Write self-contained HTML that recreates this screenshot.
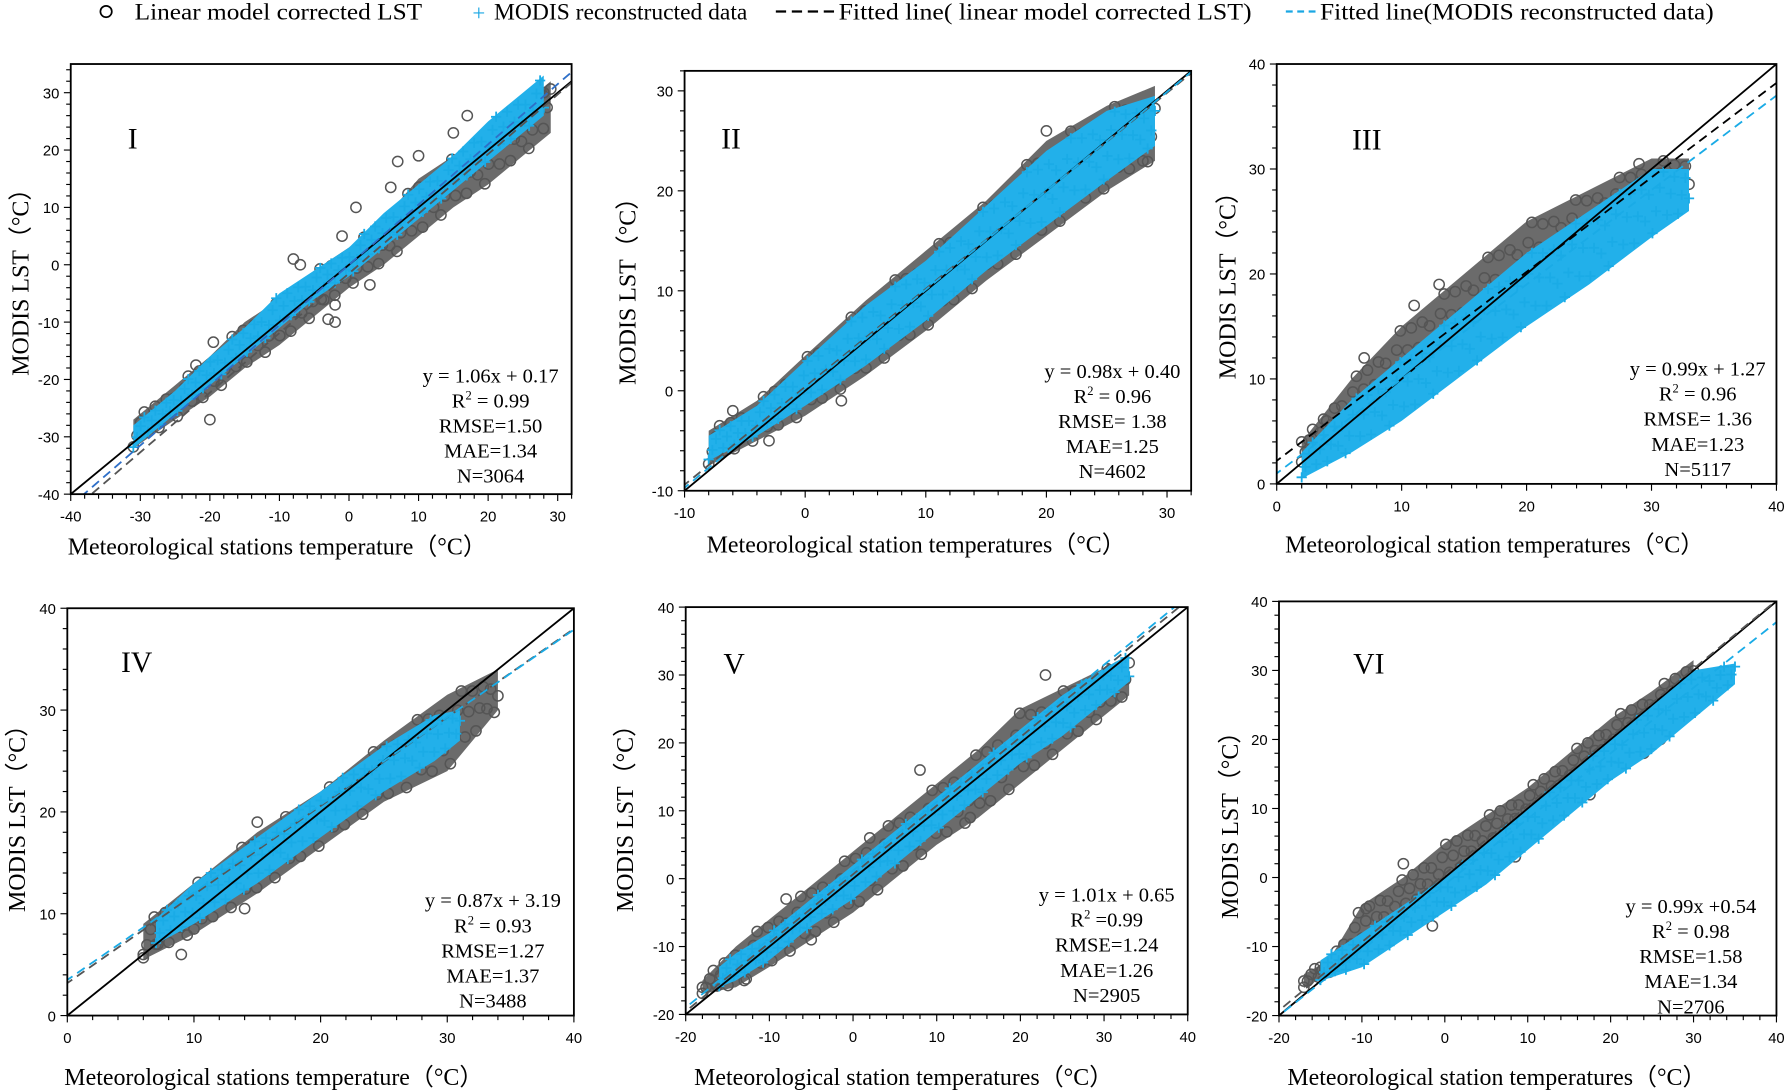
<!DOCTYPE html>
<html><head><meta charset="utf-8"><style>
html,body{margin:0;padding:0;background:#fff;}
svg{display:block;}
text{font-family:"Liberation Serif",serif;fill:#000;}
.tick{font-family:"Liberation Sans",sans-serif;font-size:13px;}
</style></head><body>
<svg id="chart" width="1789" height="1091" viewBox="0 0 1568 956" xmlns="http://www.w3.org/2000/svg">
<g>
 <circle cx="93" cy="10" r="5" fill="none" stroke="#000" stroke-width="1.5"/>
 <text x="118" y="17" font-size="20" textLength="252" lengthAdjust="spacingAndGlyphs">Linear model corrected LST</text>
 <text x="414" y="18" font-size="20" fill="#1aa7e3" style="fill:#1aa7e3">+</text>
 <text x="433" y="17" font-size="20" textLength="222" lengthAdjust="spacingAndGlyphs">MODIS reconstructed data</text>
 <line x1="680" y1="10" x2="733" y2="10" stroke="#000" stroke-width="2" stroke-dasharray="9,5"/>
 <text x="735" y="17" font-size="20" textLength="362" lengthAdjust="spacingAndGlyphs">Fitted line( linear model corrected LST)</text>
 <line x1="1127" y1="10" x2="1156" y2="10" stroke="#1aa7e3" stroke-width="2" stroke-dasharray="6,4"/>
 <text x="1157" y="17" font-size="20" textLength="345" lengthAdjust="spacingAndGlyphs">Fitted line(MODIS reconstructed data)</text>
</g>
</svg>
<script>
// ---- Panel I data ----
const p1GrayX=[-31,-25,-20,-15,-10,-5,0,5,10,15,20,25,29];
const p1GrayLo=[-32,-27,-23,-18,-14,-9,-4,0,5,10,14,19,23];
const p1GrayHi=[-27,-21,-16,-10,-6,-1,3,8,15,19,24,28,32];
const p1CyanX=[-31,-25,-20,-15,-10,-5,0,5,10,15,20,25,28];
const p1CyanLo=[-32,-26,-21,-16,-11,-6,-2,3,8,13,18,23,26];
const p1CyanHi=[-28,-22,-16,-11,-5,-1,3,9,14,19,25,30,33];
const p1OutX=[-20,-22,-19.5,-7,-8,-2,-3,3,1,-1,7,6,17,15,10,19,28,-2,-4];
const p1OutY=[-27,-17.5,-13.5,0,1,-10,-9.5,-3.5,10,5,18,13.5,26,23,19,20,30,-7,-6];
// ---- Panel II data ----
const p2GrayX=[-8,-4,0,5,10,15,20,25,29];
const p2GrayLo=[-7.5,-5,-2.5,1.5,6,11,15.5,20,23];
const p2GrayHi=[-4,-1,3.5,9,14,19,25,28.5,30.5];
const p2CyanX=[-8,-4,0,5,10,15,20,25,29];
const p2CyanLo=[-7,-4.5,-1.5,2.5,7,12,16.5,21,24.5];
const p2CyanHi=[-4.5,-1.5,3,8.5,13,18.5,24,28,29.5];
const p2OutX=[-3,3,5,13,20,28,-6];
const p2OutY=[-5,-1,8,11,26,23,-2];
// ---- Panel III data ----
const p3GrayX=[2,6,10,15,20,25,30,33];
const p3GrayLo=[2,5.5,9,13.5,18,22,26,27.5];
const p3GrayHi=[4,10,15,20,25,28,31,31];
const p3CyanX=[2,6,10,15,20,25,30,33];
const p3CyanLo=[0.5,3,6,10.5,15,19,23.5,26];
const p3CyanHi=[3,8,12,17,22,26,30,30];
const p3OutX=[2,4,7,11,13,29];
const p3OutY=[4,6,12,17,19,30.5];
// ---- Panel IV data ----
const p4GrayX=[6,10,15,20,25,30,34];
const p4GrayLo=[5.5,8,12,16.5,21,24,30];
const p4GrayHi=[9,13,18,22,27,31.5,34];
const p4CyanX=[7,10,15,20,25,29,31];
const p4CyanLo=[7,9,13,17.5,22,25,27];
const p4CyanHi=[9.5,13,17.5,22,26.5,29.5,30];
const p4OutX=[6,7,9,10,14,15];
const p4OutY=[6,7,6,8.5,10.5,19];
// ---- Panel V data ----
const p5GrayX=[-18,-14,-10,-5,0,5,10,15,20,25,30,33];
const p5GrayLo=[-17,-16,-13,-9,-5,0,5,9,14,19,24,27];
const p5GrayHi=[-15,-10,-6,-1,4,9,14,19,25,28,31,33];
const p5CyanX=[-16,-14,-10,-5,0,5,10,15,20,25,30,33];
const p5CyanLo=[-16,-15,-12,-7,-3,2,7,12,17,21,26,29];
const p5CyanHi=[-13,-11,-8,-3,2,7,12,17,22,27,31,33];
const p5OutX=[-18,-13,-5,2,8,14,-8,23];
const p5OutY=[-16,-15,-9,6,16,9,-3,30];
// ---- Panel VI data ----
const p6GrayX=[-17,-14,-10,-5,0,5,10,15,20,25,30];
const p6GrayLo=[-16,-14,-10,-5,-1,4,8.5,13,18,22,27];
const p6GrayHi=[-14,-12,-4,0,5,9,13,18,23,27,31.5];
const p6CyanX=[-15,-10,-5,0,5,10,15,20,25,30,35];
const p6CyanLo=[-15,-13,-9,-5,-1,4,9,14,18,23,28];
const p6CyanHi=[-12,-8,-4,0,5,10,15,20,25,30,31];
const p6OutX=[-17,-15,-9.5,-5,-1.5,8.5,17.5,24,26];
const p6OutY=[-15,-13,-4.5,2,-7,3,12,18,20];
// ---- fit lines [slope, intercept] ----
const fitGray=[[1.04,-1.5],[0.98,0.4],[0.9,2.2],[0.87,3.19],[1.01,0.65],[0.99,0.54]];
const fitCyan=[[1.05,0.0],[0.99,0.2],[0.9,1.0],[0.86,3.5],[1.01,1.2],[0.95,-1.0]];
const statsText=[
 ["y = 1.06x + 0.17","0.99","RMSE=1.50","MAE=1.34","N=3064"],
 ["y = 0.98x + 0.40","0.96","RMSE= 1.38","MAE=1.25","N=4602"],
 ["y = 0.99x + 1.27","0.96","RMSE= 1.36","MAE=1.23","N=5117"],
 ["y = 0.87x + 3.19","0.93","RMSE=1.27","MAE=1.37","N=3488"],
 ["y = 1.01x + 0.65","=0.99","RMSE=1.24","MAE=1.26","N=2905"],
 ["y = 0.99x +0.54","0.98","RMSE=1.58","MAE=1.34","N=2706"]];
const romanLabels=["I","II","III","IV","V","VI"];

const panels=[
 {box:[62,56,501,433],xd:[-40,32],yd:[-40,35],xt:[-40,-30,-20,-10,0,10,20,30],yt:[-40,-30,-20,-10,0,10,20,30],
  data:[p1GrayX,p1GrayLo,p1GrayHi,p1CyanX,p1CyanLo,p1CyanHi,p1OutX,p1OutY],lab:[112,130],st:[430,335],
  xtitle:"Meteorological stations temperature（°C）",xtp:[243,486],ytp:[18,242]},
 {box:[600,62,1044,430],xd:[-10,32],yd:[-10,32],xt:[-10,0,10,20,30],yt:[-10,0,10,20,30],
  data:[p2GrayX,p2GrayLo,p2GrayHi,p2CyanX,p2CyanLo,p2CyanHi,p2OutX,p2OutY],lab:[632,130],st:[975,331],
  xtitle:"Meteorological station temperatures（°C）",xtp:[803,484],ytp:[550,250]},
 {box:[1119,56,1557,424],xd:[0,40],yd:[0,40],xt:[0,10,20,30,40],yt:[0,10,20,30,40],
  data:[p3GrayX,p3GrayLo,p3GrayHi,p3CyanX,p3CyanLo,p3CyanHi,p3OutX,p3OutY],lab:[1185,131],st:[1488,329],
  xtitle:"Meteorological station temperatures（°C）",xtp:[1310,484],ytp:[1076,245]},
 {box:[59,533,503,890],xd:[0,40],yd:[0,40],xt:[0,10,20,30,40],yt:[0,10,20,30,40],
  data:[p4GrayX,p4GrayLo,p4GrayHi,p4CyanX,p4CyanLo,p4CyanHi,p4OutX,p4OutY],lab:[106,589],st:[432,795],
  xtitle:"Meteorological stations temperature（°C）",xtp:[240,951],ytp:[15,712]},
 {box:[601,532,1041,889],xd:[-20,40],yd:[-20,40],xt:[-20,-10,0,10,20,30,40],yt:[-20,-10,0,10,20,30,40],
  data:[p5GrayX,p5GrayLo,p5GrayHi,p5CyanX,p5CyanLo,p5CyanHi,p5OutX,p5OutY],lab:[634,590],st:[970,790],
  xtitle:"Meteorological station temperatures（°C）",xtp:[792,951],ytp:[548,712]},
 {box:[1121,527,1557,890],xd:[-20,40],yd:[-20,40],xt:[-20,-10,0,10,20,30,40],yt:[-20,-10,0,10,20,30,40],
  data:[p6GrayX,p6GrayLo,p6GrayHi,p6CyanX,p6CyanLo,p6CyanHi,p6OutX,p6OutY],lab:[1186,590],st:[1482,800],
  xtitle:"Meteorological station temperatures（°C）",xtp:[1312,951],ytp:[1078,718]}
];
const NS="http://www.w3.org/2000/svg";
const svg=document.getElementById('chart');
function mk(tag,attrs,parent){const e=document.createElementNS(NS,tag);for(const k in attrs)e.setAttribute(k,attrs[k]);(parent||svg).appendChild(e);return e;}
function interp(xs,ys,x){if(x<=xs[0])return ys[0];for(let i=1;i<xs.length;i++){if(x<=xs[i]){const t=(x-xs[i-1])/(xs[i]-xs[i-1]);return ys[i-1]+t*(ys[i]-ys[i-1]);}}return ys[ys.length-1];}
const fracs=[0.05,0.35,0.7,0.95,0.2,0.55,0.85,0.1,0.45,0.8,0.3,0.65];

panels.forEach((p,pi)=>{
 const [x0,y0,x1,y1]=p.box;
 const sx=v=>x0+(v-p.xd[0])/(p.xd[1]-p.xd[0])*(x1-x0);
 const sy=v=>y1-(v-p.yd[0])/(p.yd[1]-p.yd[0])*(y1-y0);
 const g=mk('g',{});
 
 
 const cid='clip'+pi;
 const cp=mk('clipPath',{id:cid},g);mk('rect',{x:x0,y:y0,width:x1-x0,height:y1-y0},cp);
 const plot=mk('g',{'clip-path':'url(#'+cid+')'},g);
 const [gx,glo,ghi,cx,clo,chi,ox,oy]=p.data;
 function band(xs,lo,hi,fill,name){
  let pts=xs.map((x,i)=>sx(x)+','+sy(lo[i]));
  for(let i=xs.length-1;i>=0;i--)pts.push(sx(xs[i])+','+sy(hi[i]));
  const poly=mk('polygon',{points:pts.join(' '),fill:fill},plot);
  
  
 }
 function markers(xs,lo,hi,type,name){
  const grp=mk('g',{},plot);
  
  
  const a=xs[0],b=xs[xs.length-1],n=Math.round((sx(b)-sx(a))/3.2);
  for(let k=0;k<=n;k++){
   const x=a+(b-a)*k/n;const l=interp(xs,lo,x),h=interp(xs,hi,x);
   const f=fracs[k%fracs.length];const y=l+(h-l)*f;
   const X=sx(x),Y=sy(y);
   if(type==='c')mk('circle',{cx:X,cy:Y,r:4.5,fill:'none',stroke:'#555',"stroke-width":1.3},grp);
   else mk('path',{d:`M${X-4.5},${Y}H${X+4.5}M${X},${Y-4.5}V${Y+4.5}`,stroke:'#1aabe6',"stroke-width":1.6},grp);
  }
 }
 band(gx,glo,ghi,'#6b6b6b','gray');
 markers(gx,glo,ghi,'c','gray');
 const og=mk('g',{},plot);
 
 
 ox.forEach((x,i)=>{const c=mk('circle',{cx:sx(x),cy:sy(oy[i]),r:4.5,fill:'none',stroke:'#555',"stroke-width":1.3},og);});
 band(cx,clo,chi,'#22b0ea','cyan');
 markers(cx,clo,chi,'p','cyan');
 const lo=Math.min(p.xd[0],p.yd[0])-5,hiV=Math.max(p.xd[1],p.yd[1])+5;
 const l1=mk('line',{x1:sx(lo),y1:sy(lo),x2:sx(hiV),y2:sy(hiV),stroke:'#000',"stroke-width":1.6},plot);
 
 
 const [ga,gb]=fitGray[pi];
 const l2=mk('line',{x1:sx(lo),y1:sy(ga*lo+gb),x2:sx(hiV),y2:sy(ga*hiV+gb),stroke:pi===2?'#000':'#555',"stroke-width":1.6,"stroke-dasharray":"8,5"},plot);
 
 
 const [ca,cb]=fitCyan[pi];
 const l3=mk('line',{x1:sx(lo),y1:sy(ca*lo+cb),x2:sx(hiV),y2:sy(ca*hiV+cb),stroke:pi===0?'#2e6fc8':'#1aabe6',"stroke-width":1.6,"stroke-dasharray":"8,5"},plot);
 
 
 const fr=mk('rect',{x:x0,y:y0,width:x1-x0,height:y1-y0,fill:'none',stroke:'#000',"stroke-width":1.6},g);
 
 
 const tg=mk('g',{},g);
 
 
 for(let v=Math.ceil(p.xd[0]/2)*2;v<=p.xd[1];v+=2){const major=v%10===0;mk('line',{x1:sx(v),y1:y1,x2:sx(v),y2:y1+(major?6:4),stroke:'#000',"stroke-width":1},tg);}
 for(let v=Math.ceil(p.yd[0]/2)*2;v<=p.yd[1];v+=2){const major=v%10===0;mk('line',{x1:x0,y1:sy(v),x2:x0-(major?6:4),y2:sy(v),stroke:'#000',"stroke-width":1},tg);}
 p.xt.forEach(v=>{const t=mk('text',{x:sx(v),y:y1+24,'text-anchor':'middle',class:'tick'},g);t.textContent=v;
  
  });
 p.yt.forEach(v=>{const t=mk('text',{x:x0-10,y:sy(v)+5,'text-anchor':'end',class:'tick'},g);t.textContent=v;
  
  });
 const lb=mk('text',{x:p.lab[0],y:p.lab[1],'font-size':26},g);lb.textContent=romanLabels[pi];
 
 
 const s=statsText[pi];const st=mk('text',{'font-size':18,'text-anchor':'middle'},g);
 
 
 const [scx,scy]=p.st;
 s.forEach((line,i)=>{const ts=mk('tspan',{x:scx,y:scy+i*22},st);
  if(i===1){ts.textContent='R';const sup=mk('tspan',{dy:-7,'font-size':11},ts);sup.textContent='2';const r=mk('tspan',{dy:7},ts);r.textContent=(line.startsWith('=')?' ':' = ')+line;}
  else ts.textContent=line;});
 const xt=mk('text',{x:p.xtp[0],y:p.xtp[1],'font-size':21,'text-anchor':'middle'},g);xt.textContent=p.xtitle;
 
 
 const yt=mk('text',{x:0,y:0,'font-size':21,'text-anchor':'middle',transform:`translate(${p.ytp[0]+7},${p.ytp[1]}) rotate(-90)`},g);yt.textContent='MODIS LST（°C）';
 
 
});
</script>
</body></html>
